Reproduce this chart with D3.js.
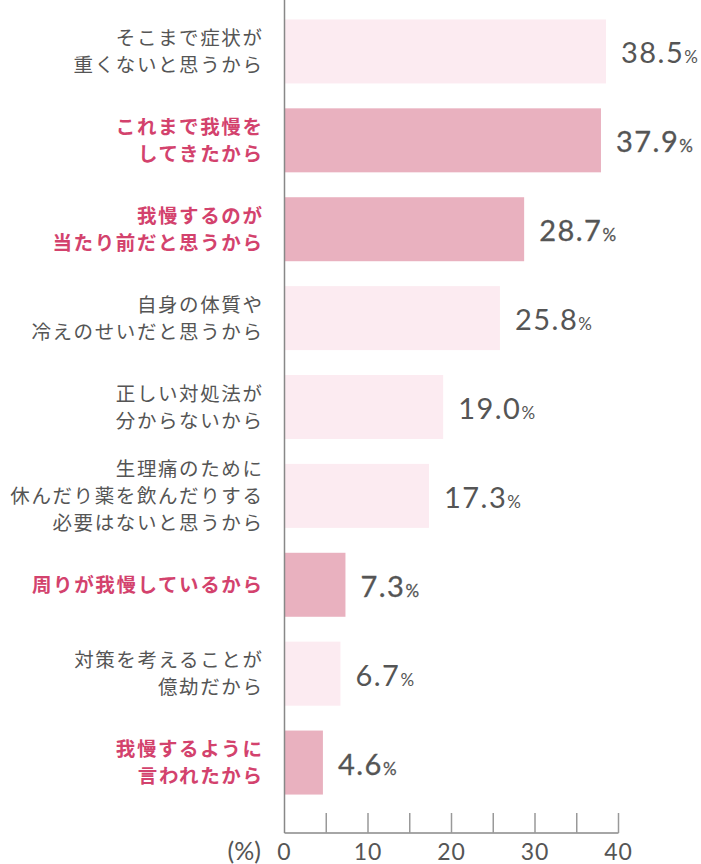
<!DOCTYPE html>
<html>
<head>
<meta charset="utf-8">
<script src="https://cdn.jsdelivr.net/npm/d3@7"></script>
<style>
  body { margin: 0; background: #fff; }
  svg { display: block; }
</style>
</head>
<body>
<div id="chart"></div>
<script>
const reasons = [
  ["そこまで症状が", "重くないと思うから"],
  ["これまで我慢を", "してきたから"],
  ["我慢するのが", "当たり前だと思うから"],
  ["自身の体質や", "冷えのせいだと思うから"],
  ["正しい対処法が", "分からないから"],
  ["生理痛のために", "休んだり薬を飲んだりする", "必要はないと思うから"],
  ["周りが我慢しているから"],
  ["対策を考えることが", "億劫だから"],
  ["我慢するように", "言われたから"],
];
const values = [38.5, 37.9, 28.7, 25.8, 19.0, 17.3, 7.3, 6.7, 4.6];
const highlighted = [false, true, true, false, false, false, true, false, true];
const tickValues = [0, 10, 20, 30, 40];
const minorTicks = [5, 10, 15, 20, 25, 30, 35, 40];

const width = 701;
const height = 864;
const margin = { left: 284.5, top: 7, axis: 833 };

const lightColor = "#fcebf1";
const darkColor = "#e9b1bf";
const grayText = "#555";
const redText = "#d3426d";

const svg = d3.select("#chart")
  .append("svg")
  .attr("width", width)
  .attr("height", height);

const x = d3.scaleLinear().domain([0, 40]).range([margin.left, 618.5]);
const y = d3.scaleBand()
  .domain(d3.range(values.length))
  .range([margin.top, margin.top + 800])
  .paddingInner(0.28)
  .paddingOuter(0.14);

// bars
svg.append("g")
  .selectAll("rect")
  .data(values)
  .join("rect")
  .attr("x", x(0))
  .attr("y", (d, i) => y(i))
  .attr("width", (d) => x(d) - x(0))
  .attr("height", y.bandwidth())
  .attr("fill", (d, i) => (highlighted[i] ? darkColor : lightColor));

// value labels
const valueText = svg.append("g")
  .selectAll("text")
  .data(values)
  .join("text")
  .attr("x", (d) => x(d) + 15)
  .attr("y", (d, i) => y(i) + y.bandwidth() / 2 + 12)
  .attr("fill", grayText)
  .attr("font-family", "Lato, 'Open Sans', sans-serif")
  .attr("font-weight", 400)
  .attr("stroke", (d, i) => (highlighted[i] ? grayText : "none"))
  .attr("stroke-width", 0.3)
  .attr("letter-spacing", 1.5);
valueText.append("tspan")
  .attr("font-size", 29)
  .text((d) => d.toFixed(1));
valueText.append("tspan")
  .attr("font-size", 17)
  .attr("letter-spacing", 0)
  .text("%");

// category labels
const labelGroup = svg.append("g")
  .selectAll("text")
  .data(reasons)
  .join("text")
  .attr("text-anchor", "end")
  .attr("font-family", "'Noto Sans CJK JP', sans-serif")
  .attr("font-size", 19.5)
  .attr("letter-spacing", 1.6)
  .attr("font-weight", (d, i) => (highlighted[i] ? 700 : 400))
  .attr("fill", (d, i) => (highlighted[i] ? redText : grayText));

const lineHeight = 27;
labelGroup.each(function (lines, i) {
  const cy = y(i) + y.bandwidth() / 2;
  const first = cy - ((lines.length - 1) * lineHeight) / 2 + 7;
  d3.select(this)
    .selectAll("tspan")
    .data(lines)
    .join("tspan")
    .attr("x", 263.5)
    .attr("y", (d, j) => first + j * lineHeight)
    .text((d) => d);
});

// axes lines
svg.append("line")
  .attr("x1", x(0)).attr("x2", x(0))
  .attr("y1", 0).attr("y2", margin.axis)
  .attr("stroke", "#888")
  .attr("stroke-width", 1.5);

svg.append("line")
  .attr("x1", x(0)).attr("x2", x(40))
  .attr("y1", margin.axis).attr("y2", margin.axis)
  .attr("stroke", "#888")
  .attr("stroke-width", 1.5);

svg.append("g")
  .selectAll("line")
  .data(minorTicks)
  .join("line")
  .attr("x1", (d) => x(d)).attr("x2", (d) => x(d))
  .attr("y1", margin.axis - 20).attr("y2", margin.axis)
  .attr("stroke", "#999")
  .attr("stroke-width", 1.5);

svg.append("g")
  .selectAll("text")
  .data(tickValues)
  .join("text")
  .attr("x", (d) => x(d))
  .attr("y", 860)
  .attr("text-anchor", "middle")
  .attr("font-family", "Lato, 'Open Sans', sans-serif")
  .attr("font-size", 23)
  .attr("letter-spacing", 1)
  .attr("fill", grayText)
  .text((d) => d);

svg.append("text")
  .attr("x", 261)
  .attr("y", 860)
  .attr("text-anchor", "end")
  .attr("font-family", "Lato, 'Open Sans', sans-serif")
  .attr("font-size", 25)
  .attr("fill", grayText)
  .text("(%)");
</script>
</body>
</html>
